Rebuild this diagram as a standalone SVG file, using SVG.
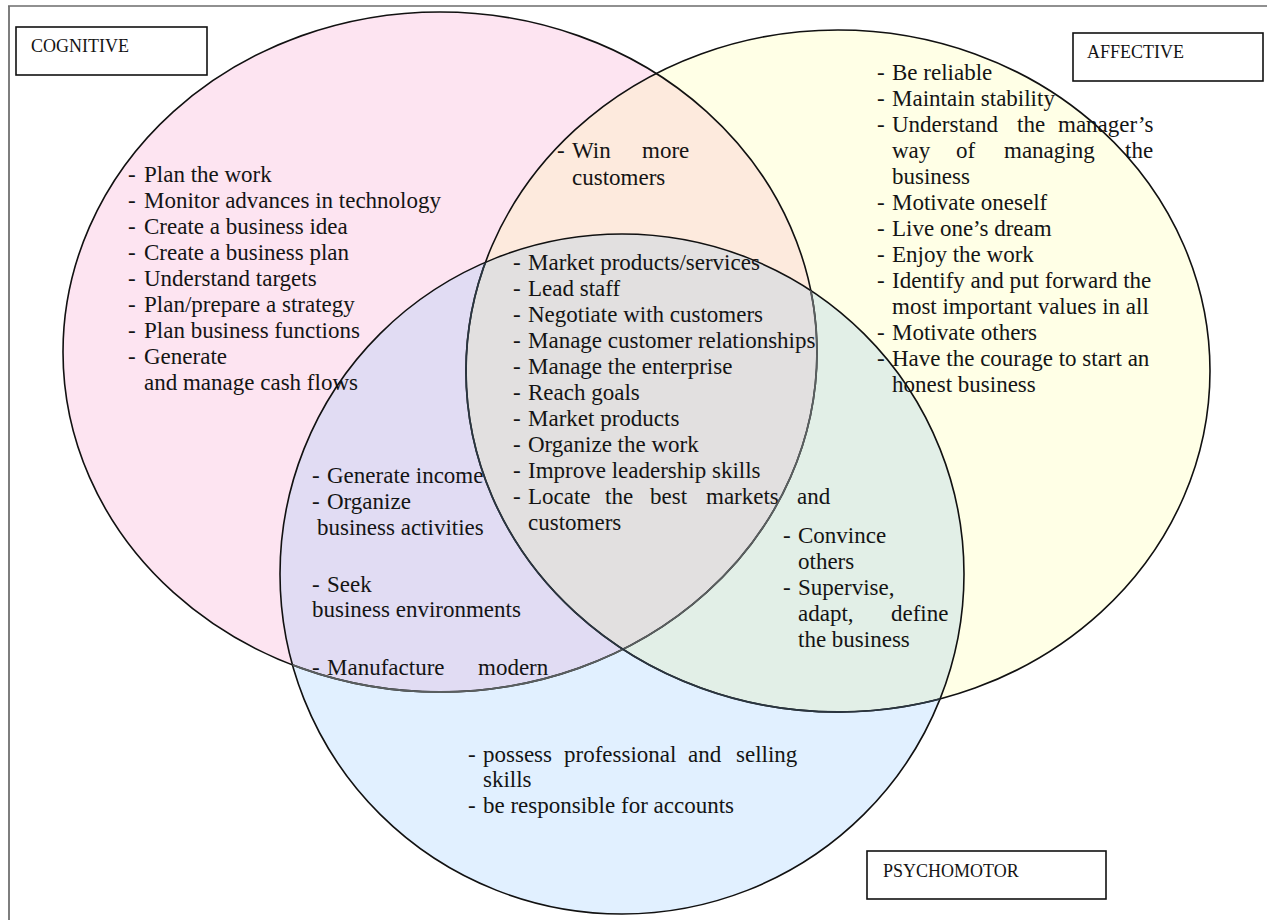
<svg xmlns="http://www.w3.org/2000/svg" width="1267" height="920" viewBox="0 0 1267 920">
<style>
.t{font-family:"Liberation Serif",serif;font-size:23px;fill:#141414}
.lb{font-family:"Liberation Serif",serif;font-size:18px;fill:#141414}
.box{fill:#fff;stroke:#111;stroke-width:1.6}
.ol{fill:none;stroke:#111;stroke-width:1.6}
</style>
<defs>
<clipPath id="cp"><ellipse cx="440" cy="352" rx="377" ry="340"/></clipPath>
<clipPath id="cy"><ellipse cx="838" cy="371" rx="372" ry="341"/></clipPath>
<clipPath id="cb"><ellipse cx="622" cy="574" rx="342" ry="340"/></clipPath>
</defs>
<rect width="1267" height="920" fill="#fff"/>
<line x1="8" y1="6" x2="1267" y2="6" stroke="#222" stroke-width="1.2"/>
<line x1="9" y1="6" x2="9" y2="920" stroke="#707070" stroke-width="1.8"/>

<g id="region-fills">
<ellipse cx="440" cy="352" rx="377" ry="340" fill="#fde4f1"/>
<ellipse cx="838" cy="371" rx="372" ry="341" fill="#ffffe6"/>
<ellipse cx="622" cy="574" rx="342" ry="340" fill="#e1f0ff"/>
<ellipse cx="838" cy="371" rx="372" ry="341" fill="#fdeadd" clip-path="url(#cp)"/>
<ellipse cx="622" cy="574" rx="342" ry="340" fill="#e1dcf3" clip-path="url(#cp)"/>
<ellipse cx="622" cy="574" rx="342" ry="340" fill="#e2efe7" clip-path="url(#cy)"/>
<g clip-path="url(#cy)"><ellipse cx="622" cy="574" rx="342" ry="340" fill="#e2e0e0" clip-path="url(#cp)"/></g>
</g>

<g id="cognitive-label">
<rect class="box" x="16" y="27" width="191" height="48"/>
<text class="lb" x="31" y="52">COGNITIVE</text>
</g>
<g id="affective-label">
<rect class="box" x="1073" y="33" width="190" height="48"/>
<text class="lb" x="1087" y="58">AFFECTIVE</text>
</g>
<g id="psychomotor-label">
<rect class="box" x="867" y="851" width="239" height="48"/>
<text class="lb" x="883" y="877">PSYCHOMOTOR</text>
</g>

<g id="cognitive-items" class="t">
<text y="182"><tspan x="128">-</tspan><tspan x="144">Plan the work</tspan></text>
<text y="208"><tspan x="128">-</tspan><tspan x="144">Monitor advances in technology</tspan></text>
<text y="234"><tspan x="128">-</tspan><tspan x="144">Create a business idea</tspan></text>
<text y="260"><tspan x="128">-</tspan><tspan x="144">Create a business plan</tspan></text>
<text y="286"><tspan x="128">-</tspan><tspan x="144">Understand targets</tspan></text>
<text y="312"><tspan x="128">-</tspan><tspan x="144">Plan/prepare a strategy</tspan></text>
<text y="338"><tspan x="128">-</tspan><tspan x="144">Plan business functions</tspan></text>
<text y="364"><tspan x="128">-</tspan><tspan x="144">Generate</tspan></text>
<text y="390" x="144">and manage cash flows</text>
</g>

<g id="cognitive-affective-items" class="t">
<text y="158"><tspan x="557">-</tspan><tspan x="572">Win</tspan><tspan x="642">more</tspan></text>
<text y="185" x="572">customers</text>
</g>

<g id="common-items" class="t">
<text y="270"><tspan x="513">-</tspan><tspan x="528">Market products/services</tspan></text>
<text y="296"><tspan x="513">-</tspan><tspan x="528">Lead staff</tspan></text>
<text y="322"><tspan x="513">-</tspan><tspan x="528">Negotiate with customers</tspan></text>
<text y="348"><tspan x="513">-</tspan><tspan x="528">Manage customer relationships</tspan></text>
<text y="374"><tspan x="513">-</tspan><tspan x="528">Manage the enterprise</tspan></text>
<text y="400"><tspan x="513">-</tspan><tspan x="528">Reach goals</tspan></text>
<text y="426"><tspan x="513">-</tspan><tspan x="528">Market products</tspan></text>
<text y="452"><tspan x="513">-</tspan><tspan x="528">Organize the work</tspan></text>
<text y="478"><tspan x="513">-</tspan><tspan x="528">Improve leadership skills</tspan></text>
<text y="504"><tspan x="513">-</tspan><tspan x="528">Locate</tspan><tspan x="605">the</tspan><tspan x="650">best</tspan><tspan x="706">markets</tspan><tspan x="797">and</tspan></text>
<text y="530" x="528">customers</text>
</g>

<g id="affective-items" class="t">
<text y="80"><tspan x="877">-</tspan><tspan x="892">Be reliable</tspan></text>
<text y="106"><tspan x="877">-</tspan><tspan x="892">Maintain stability</tspan></text>
<text y="132"><tspan x="877">-</tspan><tspan x="892">Understand</tspan><tspan x="1017">the</tspan><tspan x="1058">manager’s</tspan></text>
<text y="158"><tspan x="892">way</tspan><tspan x="956">of</tspan><tspan x="1004">managing</tspan><tspan x="1125">the</tspan></text>
<text y="184" x="892">business</text>
<text y="210"><tspan x="877">-</tspan><tspan x="892">Motivate oneself</tspan></text>
<text y="236"><tspan x="877">-</tspan><tspan x="892">Live one’s dream</tspan></text>
<text y="262"><tspan x="877">-</tspan><tspan x="892">Enjoy the work</tspan></text>
<text y="288"><tspan x="877">-</tspan><tspan x="892">Identify and put forward the</tspan></text>
<text y="314" x="892">most important values in all</text>
<text y="340"><tspan x="877">-</tspan><tspan x="892">Motivate others</tspan></text>
<text y="366"><tspan x="877">-</tspan><tspan x="892">Have the courage to start an</tspan></text>
<text y="392" x="892">honest business</text>
</g>

<g id="cognitive-psychomotor-items" class="t">
<text y="483"><tspan x="312">-</tspan><tspan x="327">Generate income</tspan></text>
<text y="509"><tspan x="312">-</tspan><tspan x="327">Organize</tspan></text>
<text y="535" x="317">business activities</text>
<text y="592"><tspan x="312">-</tspan><tspan x="327">Seek</tspan></text>
<text y="617" x="312">business environments</text>
<text y="675"><tspan x="312">-</tspan><tspan x="327">Manufacture</tspan><tspan x="478">modern</tspan></text>
</g>

<g id="affective-psychomotor-items" class="t">
<text y="543"><tspan x="783">-</tspan><tspan x="798">Convince</tspan></text>
<text y="569" x="798">others</text>
<text y="595"><tspan x="783">-</tspan><tspan x="798">Supervise,</tspan></text>
<text y="621"><tspan x="798">adapt,</tspan><tspan x="891">define</tspan></text>
<text y="647" x="798">the business</text>
</g>

<g id="psychomotor-items" class="t">
<text y="762"><tspan x="468">-</tspan><tspan x="483">possess</tspan><tspan x="564">professional</tspan><tspan x="688">and</tspan><tspan x="736">selling</tspan></text>
<text y="787" x="483">skills</text>
<text y="813"><tspan x="468">-</tspan><tspan x="483">be responsible for accounts</tspan></text>
</g>

<g id="circle-outlines">
<ellipse class="ol" cx="440" cy="352" rx="377" ry="340"/>
<ellipse class="ol" cx="838" cy="371" rx="372" ry="341"/>
<ellipse class="ol" cx="622" cy="574" rx="342" ry="340"/>
<g clip-path="url(#cb)">
<ellipse cx="440" cy="352" rx="377" ry="340" fill="none" stroke="#5a5f60" stroke-width="1.8"/>
<ellipse cx="838" cy="371" rx="372" ry="341" fill="none" stroke="#2a3540" stroke-width="1.8"/>
</g>
</g>
</svg>
